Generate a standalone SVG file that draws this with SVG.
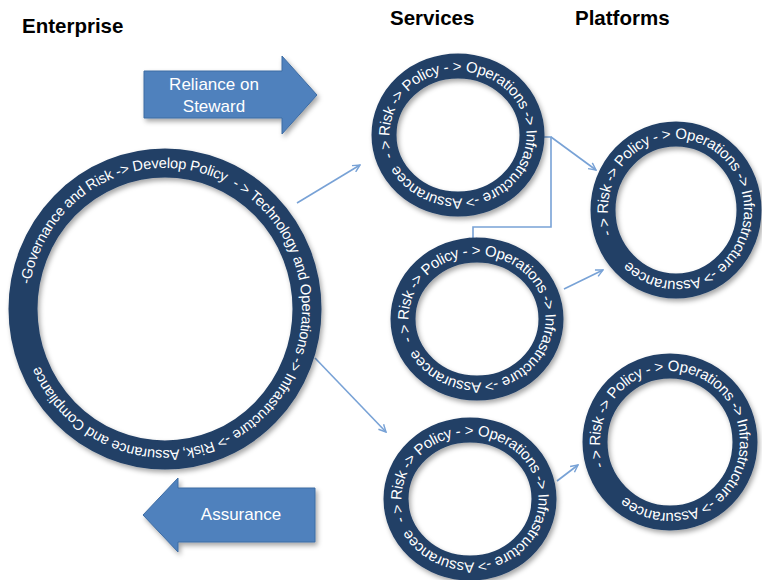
<svg xmlns="http://www.w3.org/2000/svg" width="762" height="580" viewBox="0 0 762 580">
<style>
.hdr{font-family:"Liberation Sans",Arial,sans-serif;font-weight:bold;font-size:20.5px;fill:#000}
.ring{fill:none;stroke:#213f66;stroke-width:25}
.rt{font-family:"Liberation Sans",Arial,sans-serif;font-size:15px;letter-spacing:-0.3px;fill:#fff;white-space:pre}
.rtE{font-family:"Liberation Sans",Arial,sans-serif;font-size:14.6px;letter-spacing:-0.2px;fill:#fff;white-space:pre}
.blk{fill:#4f81bd;stroke:#3d6ca3;stroke-width:1}
.bt{font-family:"Liberation Sans",Arial,sans-serif;font-size:17px;fill:#fff;text-anchor:middle}
.con{fill:none;stroke:#78a2d6;stroke-width:1.6}
</style>
<defs>
<filter id="sh" x="-20%" y="-20%" width="140%" height="140%">
<feDropShadow dx="2" dy="3" stdDeviation="2.5" flood-color="#000" flood-opacity="0.35"/>
</filter>
<marker id="ah" viewBox="0 0 10 10" refX="9" refY="5" markerWidth="9" markerHeight="9" markerUnits="userSpaceOnUse" orient="auto">
<path d="M1,1 L9,5 L1,9" fill="none" stroke="#78a2d6" stroke-width="1.6"/>
</marker>
<path id="pE" d="M30.08,284.52 A137,141 0 1 1 299.92,333.48 A137,141 0 1 1 30.08,284.52"/>
<path id="pS1" d="M393.63,156.72 A68.5,63.5 0 1 1 522.37,113.28 A68.5,63.5 0 1 1 393.63,156.72"/>
<path id="pS2" d="M412.63,340.72 A68.5,63.5 0 1 1 541.37,297.28 A68.5,63.5 0 1 1 412.63,340.72"/>
<path id="pS3" d="M405.63,520.72 A68.5,63.5 0 1 1 534.37,477.28 A68.5,63.5 0 1 1 405.63,520.72"/>
<path id="pP1" d="M612.10,234.28 A68,71 0 1 1 739.90,185.72 A68,71 0 1 1 612.10,234.28"/>
<path id="pP2" d="M604.22,466.28 A70,71 0 1 1 735.78,417.72 A70,71 0 1 1 604.22,466.28"/>
</defs>
<rect width="762" height="580" fill="#fff"/>

<g id="headers">
<text class="hdr" x="22" y="33">Enterprise</text>
<text class="hdr" x="390" y="25">Services</text>
<text class="hdr" x="575" y="25">Platforms</text>
</g>

<g id="connectors">
<line class="con" x1="297" y1="203" x2="360" y2="165" marker-end="url(#ah)"/>
<line class="con" x1="315" y1="358" x2="386" y2="432" marker-end="url(#ah)"/>
<polyline class="con" points="543,137 551,137 551,227 473,227 473,245" marker-end="url(#ah)"/>
<line class="con" x1="551" y1="137" x2="596" y2="170" marker-end="url(#ah)"/>
<line class="con" x1="564" y1="289" x2="603" y2="270" marker-end="url(#ah)"/>
<line class="con" x1="557" y1="481" x2="578" y2="465" marker-end="url(#ah)"/>
</g>

<g id="arrow-reliance">
<polygon class="blk" filter="url(#sh)" points="144,71 282,71 282,56 317,95 282,134 282,118 144,118"/>
<text class="bt" x="214" y="90">Reliance on</text>
<text class="bt" x="214" y="112">Steward</text>
</g>

<g id="arrow-assurance">
<polygon class="blk" filter="url(#sh)" points="315,488 178,488 178,478 143,515 178,552 178,542 315,542"/>
<text class="bt" x="241" y="520">Assurance</text>
</g>

<g id="enterprise">
<ellipse class="ring" style="stroke-width:29" filter="url(#sh)" cx="165" cy="309" rx="142" ry="146"/>
<text class="rtE"><textPath href="#pE">-Governance and Risk -&gt; Develop Policy  - &gt; Technology and Operations -&gt; Infrastructure -&gt; Risk, Assurance and Compliance</textPath></text>
</g>

<g id="service1">
<ellipse class="ring" filter="url(#sh)" cx="458" cy="135" rx="74" ry="69"/>
<text class="rt"><textPath href="#pS1">- &gt; Risk -&gt; Policy - &gt; Operations -&gt; Infrastructure -&gt; Assurancee</textPath></text>
</g>

<g id="service2">
<ellipse class="ring" filter="url(#sh)" cx="477" cy="319" rx="74" ry="69"/>
<text class="rt"><textPath href="#pS2">- &gt; Risk -&gt; Policy - &gt; Operations -&gt; Infrastructure -&gt; Assurancee</textPath></text>
</g>

<g id="service3">
<ellipse class="ring" filter="url(#sh)" cx="470" cy="499" rx="74" ry="69"/>
<text class="rt"><textPath href="#pS3">- &gt; Risk -&gt; Policy - &gt; Operations -&gt; Infrastructure -&gt; Assurancee</textPath></text>
</g>

<g id="platform1">
<ellipse class="ring" filter="url(#sh)" cx="676" cy="210" rx="73" ry="76"/>
<text class="rt"><textPath href="#pP1">- &gt; Risk -&gt; Policy - &gt; Operations -&gt; Infrastructure -&gt; Assurancee</textPath></text>
</g>

<g id="platform2">
<ellipse class="ring" filter="url(#sh)" cx="670" cy="442" rx="75" ry="76"/>
<text class="rt"><textPath href="#pP2">- &gt; Risk -&gt; Policy - &gt; Operations -&gt; Infrastructure -&gt; Assurancee</textPath></text>
</g>
</svg>
